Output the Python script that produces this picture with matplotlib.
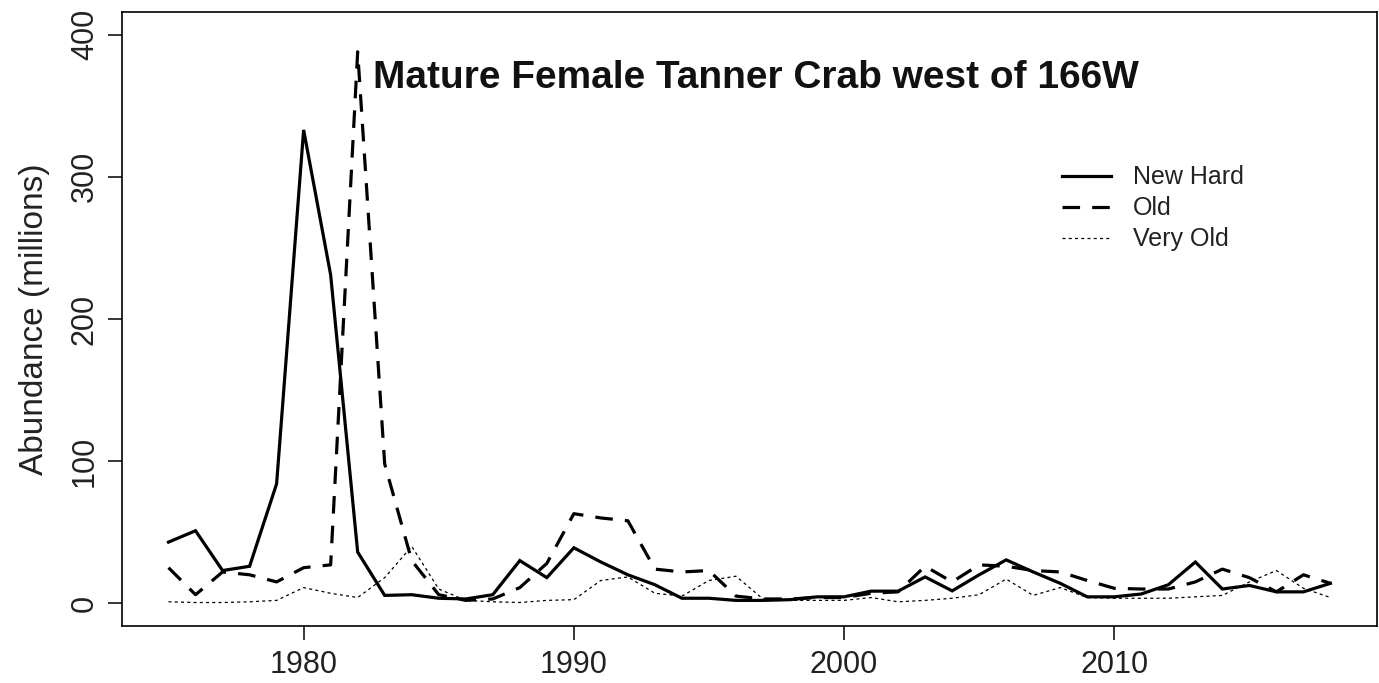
import numpy as np
import matplotlib
matplotlib.use("Agg")
import matplotlib.pyplot as plt

# Mature female Tanner crab abundance (millions) west of 166W, by shell condition
years = list(range(1975, 2019))

new_hard = [43, 51, 23, 26, 84, 333, 231, 36, 5.5, 6,
            3.5, 3, 6, 30, 18, 39, 29, 20, 13, 3.5,
            3.5, 2, 2, 2.5, 4.5, 4.5, 8.5, 8.5, 18.5, 8.7,
            20, 30.5, 22, 14, 4.5, 4.5, 6.5, 13, 29, 10,
            12.5, 8, 8, 14]

old = [25, 6, 22, 20, 15, 25, 27, 388, 98, 30,
       6, 2, 3, 11, 28, 63, 60, 58, 24, 22,
       23, 5, 3, 3, 4, 4, 7, 8, 26, 15,
       27, 26, 23, 22, 16, 10.5, 10, 10, 15, 24,
       18, 8, 20, 14]

very_old = [1, 0.5, 0.5, 1, 2, 11, 7, 4, 18, 40,
            10, 2, 1, 0.5, 2, 2.5, 16, 18.5, 7, 5,
            16, 19, 3, 2, 2, 2, 4, 1, 2, 3.5,
            6, 17, 5.5, 11, 4, 3.5, 3.5, 3.5, 4.5, 5.5,
            15, 23, 10.5, 4]

series_labels = ["New Hard", "Old", "Very Old"]
x_ticks = [1980, 1990, 2000, 2010]
y_ticks = [0, 100, 200, 300, 400]

fam = ["Liberation Sans", "DejaVu Sans"]

fig = plt.figure(figsize=(13.79, 6.83), dpi=100)
ax = fig.add_axes([0.0885, 0.0835, 0.91, 0.899])

ax.plot(years, new_hard, color="black", lw=2.3, solid_joinstyle="miter",
        label=series_labels[0])
ax.plot(years, old, color="black", lw=2.3, linestyle=(0, (5.5, 3.8)),
        label=series_labels[1])
ax.plot(years, very_old, color="black", lw=0.9, linestyle=(0, (2.4, 2.6)),
        label=series_labels[2])

# R-style axes: 4% padding, outward ticks, boxed frame
x0, x1 = min(years), max(years)
px = 0.04 * (x1 - x0)
ax.set_xlim(x0 - px, x1 + px)
ax.set_ylim(-16, 416)
ax.set_xticks(x_ticks)
ax.set_yticks(y_ticks)
ax.tick_params(direction="out", length=10, width=1.1, colors="black")
ax.tick_params(axis="x", pad=7)
ax.tick_params(axis="y", pad=6)
for lab in ax.get_xticklabels():
    lab.set_fontfamily(fam)
    lab.set_fontsize(22)
    lab.set_color("#222222")
for lab in ax.get_yticklabels():
    lab.set_fontfamily(fam)
    lab.set_fontsize(22)
    lab.set_rotation(90)
    lab.set_va("center")
    lab.set_color("#222222")
for sp in ax.spines.values():
    sp.set_linewidth(1.2)
    sp.set_color("black")

ax.set_ylabel("Abundance (millions)", fontsize=24, family=fam,
              color="#222222", labelpad=14)

ax.text(0.505, 0.892, "Mature Female Tanner Crab west of 166W",
        transform=ax.transAxes, ha="center", va="center",
        fontsize=28, fontweight="bold", family=fam, color="#111111")

ax.legend(loc="upper left", bbox_to_anchor=(0.749, 0.750), frameon=False,
          prop={"family": fam, "size": 18}, handlelength=1.95,
          handletextpad=0.9, labelspacing=0.28, borderpad=0,
          borderaxespad=0, labelcolor="#222222")

fig.savefig("out.png", dpi=100)
